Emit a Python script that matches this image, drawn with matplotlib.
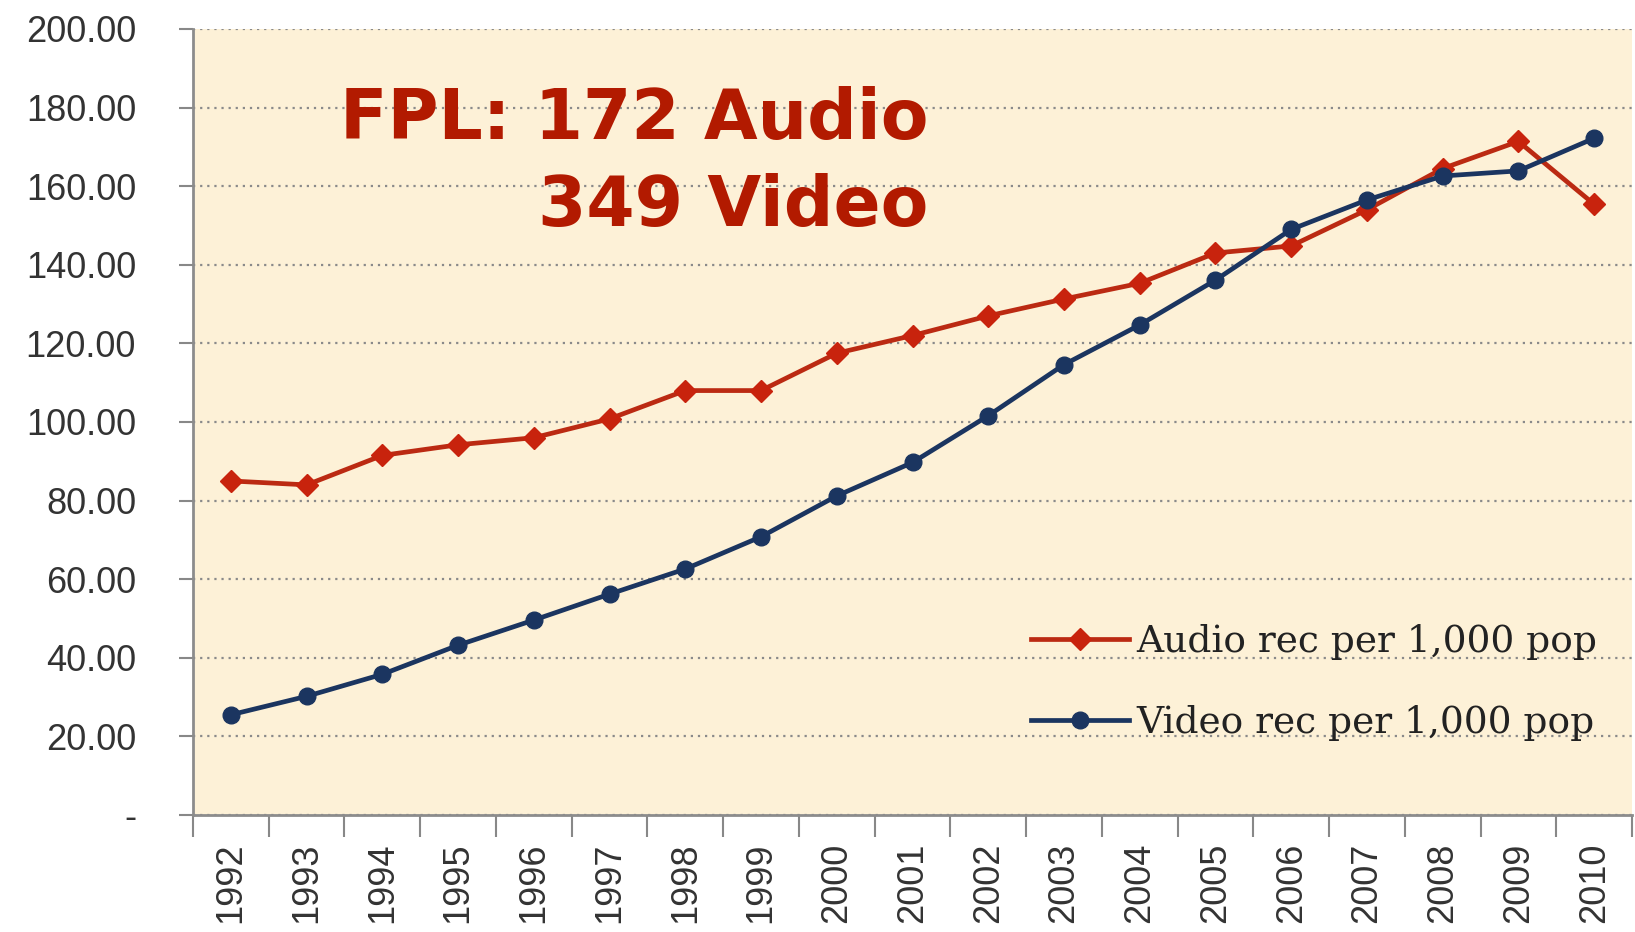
import matplotlib
matplotlib.use("Agg")
import matplotlib.pyplot as plt
import numpy as np
from matplotlib.ticker import FixedLocator, NullFormatter, FuncFormatter

years = [str(y) for y in range(1992, 2011)]
audio = [85.0, 84.0, 91.5, 94.2, 96.0, 100.8, 108.0, 108.0, 117.5, 122.0,
         127.0, 131.3, 135.3, 143.0, 144.8, 154.0, 164.5, 171.4, 155.4]
video = [25.5, 30.2, 35.8, 43.2, 49.6, 56.2, 62.6, 70.8, 81.2, 89.7,
         101.6, 114.6, 124.7, 136.1, 149.0, 156.5, 162.6, 163.9, 172.2]
series_labels = ["Audio rec per 1,000 pop", "Video rec per 1,000 pop"]
title_lines = ["FPL: 172 Audio", "349 Video"]

W, H = 1635, 932
fig = plt.figure(figsize=(W / 100, H / 100), dpi=100)
fig.patch.set_facecolor("white")
ax = fig.add_axes([193 / W, 1 - 815 / H, (1632 - 193) / W, (815 - 29) / H])
ax.set_facecolor("#fdf1d7")

x = np.arange(len(years))
red = "#bb2a12"
navy = "#1b3560"
ax.plot(x, audio, color=red, lw=3.4, marker="D", ms=11, mfc="#c8230d", mec="#c8230d",
        label=series_labels[0], zorder=3)
ax.plot(x, video, color=navy, lw=3.4, marker="o", ms=12, mfc=navy, mec=navy,
        label=series_labels[1], zorder=3)

ax.set_xlim(-0.5, len(years) - 0.5)
ax.set_ylim(0, 200)

# y axis
ax.set_yticks(np.arange(0, 201, 20))
ax.yaxis.set_major_formatter(FuncFormatter(lambda v, p: "-" if v == 0 else f"{v:.2f}"))
ax.tick_params(axis="y", length=10, width=1.5, color="#888888", pad=31,
               labelsize=26, labelcolor="#333333")
ax.grid(axis="y", linestyle=(0, (1, 2.2)), color="#8a8a8a", lw=1.6)
ax.set_axisbelow(True)

# x axis: boundary ticks (major) + centred labels (minor)
ax.xaxis.set_major_locator(FixedLocator(np.arange(-0.5, len(years), 1.0)))
ax.xaxis.set_major_formatter(NullFormatter())
ax.xaxis.set_minor_locator(FixedLocator(x))
ax.set_xticklabels(years, minor=True, rotation=90)
ax.tick_params(axis="x", which="major", length=16, width=1.5, color="#888888")
ax.tick_params(axis="x", which="minor", length=0, pad=20, labelsize=26, labelcolor="#333333")
for lbl in ax.get_yticklabels() + ax.get_xticklabels(minor=True):
    lbl.set_fontfamily("Liberation Sans")

for s in ["top", "right"]:
    ax.spines[s].set_visible(False)
for s in ["left", "bottom"]:
    ax.spines[s].set_color("#8c8c8c")
    ax.spines[s].set_linewidth(2)

leg = ax.legend(loc="lower right", bbox_to_anchor=(0.976, 0.094), frameon=False,
                prop={"family": "DejaVu Serif", "size": 27},
                handlelength=2.6, handletextpad=0.2, labelspacing=1.2,
                borderpad=0, borderaxespad=0)
for t in leg.get_texts():
    t.set_color("#222222")

tcol = "#b21a00"
fig.text(928 / W, 1 - 139 / H, title_lines[0], ha="right", va="baseline",
         fontsize=50, fontweight="bold", color=tcol, family="DejaVu Sans")
fig.text(928 / W, 1 - 226 / H, title_lines[1], ha="right", va="baseline",
         fontsize=50, fontweight="bold", color=tcol, family="DejaVu Sans")

fig.savefig("out.png", dpi=100)
